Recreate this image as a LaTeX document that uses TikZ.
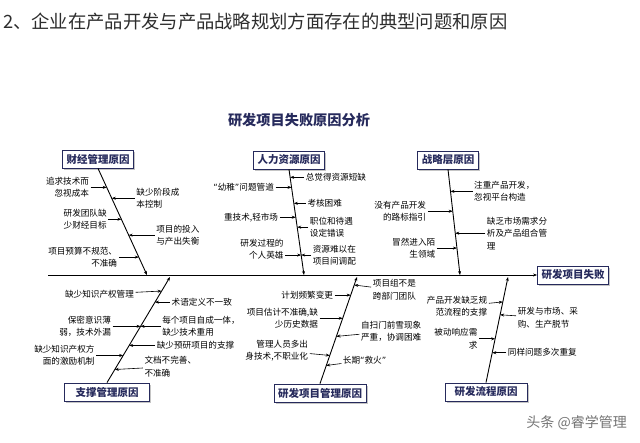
\documentclass[tikz,border=0pt]{standalone}
\usepackage{fontspec}
\setmainfont{Noto Sans CJK SC}
\newfontfamily\llatina{DejaVu Sans}
\newcommand{\cometes}[1]{{\llatina “}#1{\llatina ”}}
\usepackage{tikz}
\usetikzlibrary{arrows.meta,positioning,shadows}
\definecolor{navy}{RGB}{38,42,92}
\definecolor{titlegray}{RGB}{45,45,45}

\begin{document}
\begin{tikzpicture}[
    x=1pt, y=-1pt,
    >={Stealth[length=4pt,width=3pt]},
    causa/.style={draw=navy, line width=0.8pt, fill=white, text=navy,
        font=\fontsize{10.5}{12}\selectfont\bfseries,
        inner xsep=4pt, inner ysep=2pt, minimum height=18pt,
        drop shadow={shadow xshift=1.5pt, shadow yshift=-1.5pt, fill=black!45}},
    esq/.style={font=\fontsize{8.6}{12.5}\selectfont, align=right, inner sep=1.5pt},
    dre/.style={font=\fontsize{8.6}{12.5}\selectfont, align=left, inner sep=1.5pt},
    os/.style={line width=0.9pt, ->},
    fletxa/.style={line width=0.6pt, ->}
]
\useasboundingbox (0,0) rectangle (640,442);

% Titols
\node[anchor=west, inner sep=0, text=titlegray,
    font=\fontsize{18.3}{20}\selectfont] (titol) at (3,22)
    {2、企业在产品开发与产品战略规划方面存在的典型问题和原因};
\node[text=navy, font=\fontsize{14.2}{16}\selectfont\bfseries]
    (grafic) at (299,120) {研发项目失败原因分析};

% Espina principal
\node[causa] (fracas) at (573,275) {研发项目失败};
\coordinate (inici) at (48,275);
\draw[line width=1pt, ->] (inici) -- (fracas);

\coordinate (finB) at (147,275);
\coordinate (hrB) at (304,275);
\coordinate (strB) at (460,275);
\coordinate (supT) at (170,277);
\coordinate (pmT) at (357,277);
\coordinate (prT) at (508,277);

% Caixes de causes
\node[causa] (fin) at (98,159) {财经管理原因};
\node[causa] (hr) at (289,160) {人力资源原因};
\node[causa] (str) at (448,160) {战略层原因};
\node[causa, minimum width=85pt] (sup) at (107,392) {支撑管理原因};
\node[causa] (pm) at (320,393) {研发项目管理原因};
\node[causa, minimum width=82pt] (pr) at (486,392) {研发流程原因};

% Ossos
\draw[os] (fin.south) -- (finB)
    coordinate[pos=0.178] (f1) coordinate[pos=0.280] (f2)
    coordinate[pos=0.477] (f3) coordinate[pos=0.626] (f4)
    coordinate[pos=0.832] (f5);
\draw[os] (hr.south) -- (hrB)
    coordinate[pos=0.075] (h1) coordinate[pos=0.170] (h2)
    coordinate[pos=0.321] (h3) coordinate[pos=0.453] (h4)
    coordinate[pos=0.547] (h5) coordinate[pos=0.811] (h6);
\draw[os] (str.south) -- (strB)
    coordinate[pos=0.208] (s1) coordinate[pos=0.396] (s2)
    coordinate[pos=0.604] (s3) coordinate[pos=0.745] (s4);
\draw[os] (sup.north) -- (supT)
    coordinate[pos=0.867] (u1) coordinate[pos=0.762] (u2)
    coordinate[pos=0.533] (u3) coordinate[pos=0.352] (u4)
    coordinate[pos=0.257] (u5) coordinate[pos=0.124] (u6);
\draw[os] (pm.north) -- (pmT)
    coordinate[pos=0.925] (p1) coordinate[pos=0.830] (p2)
    coordinate[pos=0.613] (p3) coordinate[pos=0.443] (p4)
    coordinate[pos=0.264] (p5) coordinate[pos=0.170] (p6);
\draw[os] (pr.north) -- (prT)
    coordinate[pos=0.764] (r1) coordinate[pos=0.642] (r2)
    coordinate[pos=0.415] (r3) coordinate[pos=0.283] (r4);

% Causes financeres
\node[esq, left=16pt of f1] (tf1) {追求技术而\\忽视成本};
\node[dre, right=23pt of f2] (tf2) {缺少阶段成\\本控制};
\node[esq, left=13pt of f3] (tf3) {研发团队缺\\少财经目标};
\node[dre, right=26pt of f4] (tf4) {项目的投入\\与产出失衡};
\node[esq, left=20pt of f5] (tf5) {项目预算不规范、\\不准确};
\foreach \n in {1,...,5} \draw[fletxa] (tf\n) -- (f\n);

% Recursos humans
\node[dre, right=14pt of h1] (th1) {总觉得资源短缺};
\node[esq, left=16pt of h2] (th2) {\cometes{幼稚}问题管道};
\node[dre, right=12pt of h3] (th3) {考核困难};
\node[esq, left=16pt of h4] (th4) {重技术,轻市场};
\node[dre, right=11pt of h5] (th5) {职位和待遇\\设定错误};
\node[esq, left=16pt of h6, yshift=6pt] (th6) {研发过程的\\个人英雄};
\node[dre, right=10pt of h6] (th7) {资源难以在\\项目间调配};
\foreach \n in {1,...,5} \draw[fletxa] (th\n) -- (h\n);
\draw[fletxa] (th6.east |- h6) -- (h6);
\draw[fletxa] (th7) -- (h6);

% Estrategia
\node[dre, right=22pt of s1] (ts1) {注重产品开发，\\忽视平台构造};
\node[esq, left=25pt of s2] (ts2) {没有产品开发\\的路标指引};
\node[dre, right=30pt of s3] (ts3) {缺乏市场需求分\\析及产品组合管\\理};
\node[esq, left=20pt of s4] (ts4) {冒然进入陌\\生领域};
\foreach \n in {1,...,4} \draw[fletxa] (ts\n) -- (s\n);

% Suport
\node[esq, left=26pt of u1, yshift=-3pt] (tu1) {缺少知识产权管理};
\node[dre, right=15pt of u2] (tu2) {术语定义不一致};
\node[esq, left=28pt of u3] (tu3) {保密意识薄\\弱，技术外漏};
\node[dre, right=20pt of u3] (tu7) {每个项目自成一体，\\缺少技术重用};
\node[dre, right=26pt of u4] (tu4) {缺少预研项目的支撑};
\node[esq, left=27pt of u5] (tu5) {缺少知识产权方\\面的激励机制};
\node[dre, right=28pt of u6, yshift=3pt] (tu6) {文档不完善、\\不准确};
\foreach \n in {1,...,6} \draw[fletxa] (tu\n) -- (u\n);
\draw[fletxa] (tu7) -- (u3);

% Gestio de projectes
\node[dre, right=17pt of p1, yshift=-5pt] (tp1) {项目组不是\\跨部门团队};
\node[esq, left=16pt of p2] (tp2) {计划频繁变更};
\node[esq, left=23pt of p3] (tp3) {项目估计不准确,缺\\少历史数据};
\node[dre, right=23pt of p4, yshift=5pt] (tp4) {自扫门前雪现象\\严重，协调困难};
\node[esq, left=20pt of p5, yshift=5pt] (tp5) {管理人员多出\\身技术,不职业化};
\node[dre, right=15pt of p6, yshift=5pt] (tp6) {长期\cometes{救火}};
\foreach \n in {1,...,6} \draw[fletxa] (tp\n) -- (p\n);

% Proces
\node[esq, left=14pt of r1, yshift=-4.5pt] (tr1) {产品开发缺乏规\\范流程的支撑};
\node[dre, right=16pt of r2, yshift=-3pt] (tr2) {研发与市场、采\\购、生产脱节};
\node[esq, left=16pt of r3] (tr3) {被动响应需\\求};
\node[dre, right=14pt of r4] (tr4) {同样问题多次重复};
\foreach \n in {1,...,4} \draw[fletxa] (tr\n) -- (r\n);

% Marca
\node[anchor=east, inner sep=0, text=black!55,
    font=\fontsize{14}{16}\selectfont] (marca) at (627,423) {头条 @睿学管理};

\end{tikzpicture}
\end{document}
